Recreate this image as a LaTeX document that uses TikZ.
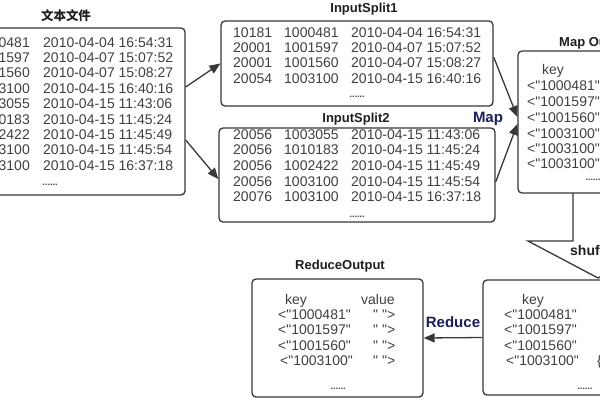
\documentclass[tikz,border=0pt]{standalone}
\usepackage{fontspec}
\setmainfont{Liberation Sans}[Ligatures=TeXOff]
\newfontfamily\cjkfont{Noto Sans CJK SC}
\usetikzlibrary{arrows.meta}
\definecolor{boxgray}{rgb}{0.22, 0.22, 0.22}
\definecolor{textgray}{rgb}{0.25, 0.25, 0.25}
\definecolor{mapblue}{rgb}{0.1, 0.12, 0.35}
\tikzset{
  databox/.style={draw=boxgray, line width=1.3pt, rounded corners=4pt, fill=white, inner sep=0pt},
  row/.style={anchor=base west, inner sep=0pt, text=textgray, font=\fontsize{14}{16}\selectfont},
  rowend/.style={row, anchor=base east},
  boxtitle/.style={anchor=base, inner sep=0pt, text=black!88, font=\fontsize{13}{15}\selectfont\bfseries},
  dotrow/.style={inner sep=0pt, text=textgray, font=\fontsize{9}{10}\selectfont\bfseries},
  flow/.style={draw=boxgray, line width=1.3pt, -{Triangle[length=11pt,width=9pt]}},
  steplabel/.style={anchor=base, inner sep=0pt, text=mapblue, font=\fontsize{15}{17}\selectfont\bfseries},
}

\begin{document}
\begin{tikzpicture}[x=1pt,y=-1pt]
  \clip (0,0) rectangle (600,400);
  \coordinate (S1) at (573,193);
  \coordinate (S2) at (573,241);
  \coordinate (S3) at (528,241);
  \coordinate (S4) at (598,278);
  \coordinate (S5) at (668,241);
  \coordinate (S6) at (623,241);
  \coordinate (S7) at (623,193);

  % shuffle arrow
  \draw [draw=boxgray, line width=1.3pt, fill=white] (S1) -- (S2) -- (S3) -- (S4) -- (S5) -- (S6) -- (S7);

  \node [databox, minimum width=225pt, minimum height=167pt] (file) at (72.5,111.5) {};
  \node [databox, minimum width=272pt, minimum height=85pt] (split1) at (357,63.5) {};
  \node [databox, minimum width=276pt, minimum height=94pt] (split2) at (357,175) {};
  \node [databox, minimum width=182pt, minimum height=142pt] (mapout) at (609,122) {};
  \node [databox, minimum width=217pt, minimum height=115pt] (shuffle) at (591.5,337.5) {};
  \node [databox, minimum width=171pt, minimum height=118pt] (reduceout) at (337.5,338) {};

  \node [boxtitle, font=\cjkfont\fontsize{12.5}{14}\selectfont\bfseries] (filetitle) at (66,20) {文本文件};
  \node [boxtitle] (split1title) at (364,12) {InputSplit1};
  \node [boxtitle] (split2title) at (356,122) {InputSplit2};
  \node [boxtitle, anchor=base west] (mapouttitle) at (559,46) {Map Output};
  \node [boxtitle, anchor=base west, font=\fontsize{14}{16}\selectfont\bfseries] (shufflelabel) at (570,255) {shuffle};
  \node [boxtitle] (reducetitle) at (340,269) {ReduceOutput};

  \foreach \y/\id/\stamp [count=\i] in
  {
    47/1000481/2010-04-04 16:54:31,
    62.4/1001597/2010-04-07 15:07:52,
    77.8/1001560/2010-04-07 15:08:27,
    93.2/1003100/2010-04-15 16:40:16,
    108.6/1003055/2010-04-15 11:43:06,
    124/1010183/2010-04-15 11:45:24,
    139.4/1002422/2010-04-15 11:45:49,
    154.8/1003100/2010-04-15 11:45:54,
    170.2/1003100/2010-04-15 16:37:18
  }
  {
    \node [rowend] (fileid\i) at (30,\y) {\id};
    \node [row] (filestamp\i) at (43,\y) {\stamp};
  }
  \node [dotrow] (filedots) at (50,185) {......};

  \foreach \y/\num/\id/\stamp [count=\i] in
  {
    37/10181/1000481/2010-04-04 16:54:31,
    52.3/20001/1001597/2010-04-07 15:07:52,
    67.6/20001/1001560/2010-04-07 15:08:27,
    83/20054/1003100/2010-04-15 16:40:16
  }
  {
    \node [row] (onenum\i) at (233,\y) {\num};
    \node [row] (oneid\i) at (284,\y) {\id};
    \node [row] (onestamp\i) at (351,\y) {\stamp};
  }
  \node [dotrow] (onedots) at (357,97) {......};

  \foreach \y/\num/\id/\stamp [count=\i] in
  {
    139/20056/1003055/2010-04-15 11:43:06,
    154.7/20056/1010183/2010-04-15 11:45:24,
    170.4/20056/1002422/2010-04-15 11:45:49,
    186.1/20056/1003100/2010-04-15 11:45:54,
    201.8/20076/1003100/2010-04-15 16:37:18
  }
  {
    \node [row] (twonum\i) at (233,\y) {\num};
    \node [row] (twoid\i) at (284,\y) {\id};
    \node [row] (twostamp\i) at (351,\y) {\stamp};
  }
  \node [dotrow] (twodots) at (357,217) {......};

  % map output
  \node [row] (mapkey) at (542,74) {key};
  \foreach \y/\id [count=\i] in {90/1000481, 106/1001597, 122/1001560, 138/1003100, 153/1003100, 168/1003100}
  {
    \node [row] (mapid\i) at (527,\y) {<"\id"};
  }
  \node [dotrow] (mapdots) at (593,180) {......};

  % shuffle output
  \node [row] (shufkey) at (522,304) {key};
  \foreach \x/\y/\id [count=\i] in {504/319/1000481, 504/334.5/1001597, 504/350/1001560, 506/365.5/1003100}
  {
    \node [row] (shufid\i) at (\x,\y) {<"\id"};
  }
  \node [row] (shufbrace) at (597,365.5) {\{};
  \node [dotrow] (shufdots) at (585,389) {......};

  % reduce output
  \node [row] (redkey) at (285,304) {key};
  \node [row] (redvalue) at (361,304) {value};
  \foreach \x/\y/\id [count=\i] in {278/319/1000481, 278/334.5/1001597, 278/350/1001560, 280/365.5/1003100}
  {
    \node [row] (redid\i) at (\x,\y) {<"\id"};
    \node [row] (redval\i) at (373,\y) {" ">};
  }
  \node [dotrow] (reddots) at (338,389) {......};

  \draw [flow] ([yshift=24.5pt]file.east) -- (split1.west);
  \draw [flow] ([yshift=-28.5pt]file.east) -- ([yshift=-4pt]split2.west);
  \draw [flow] ([yshift=6.5pt]split1.east) -- ([yshift=5pt]mapout.west);
  \draw [flow] ([yshift=-7pt]split2.east) -- ([yshift=-2pt]mapout.west);
  \draw [flow] (shuffle.west) -- (reduceout.east);

  \node [steplabel] (maplabel) at (488,122) {Map};
  \node [steplabel] (reducelabel) at (453,327.5) {Reduce};
\end{tikzpicture}
\end{document}
